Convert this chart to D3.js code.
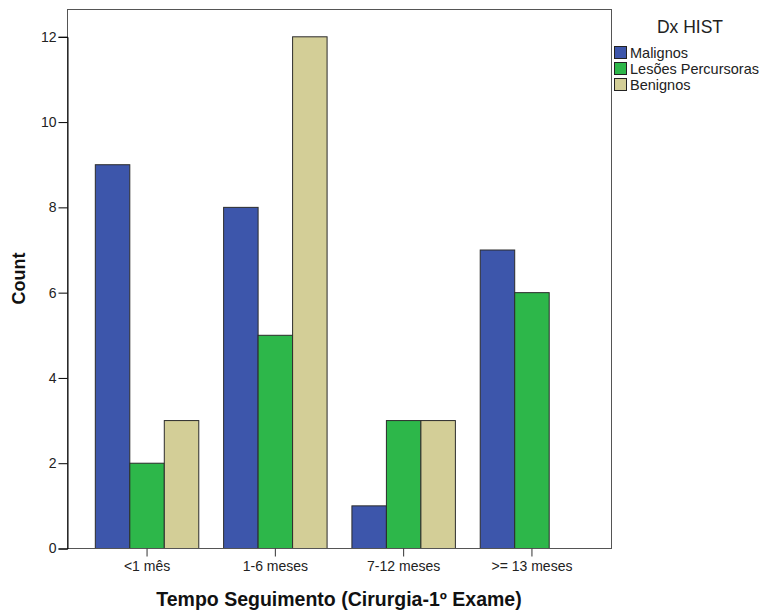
<!DOCTYPE html>
<html><head><meta charset="utf-8">
<script src="https://cdn.jsdelivr.net/npm/d3@7"></script>
<style>body{margin:0;background:#fff}svg{display:block}text{font-family:"Liberation Sans",Arial,sans-serif}</style>
</head><body><svg id="c" width="764" height="610"></svg>
<script>
const categories = ["<1 mês", "1-6 meses", "7-12 meses", ">= 13 meses"];
const seriesNames = ["Malignos", "Lesões Percursoras", "Benignos"];
const malignos = [9, 8, 1, 7];
const lesoes = [2, 5, 3, 6];
const benignos = [3, 12, 3, 0];
const yTicks = [0, 2, 4, 6, 8, 10, 12];
const colors = ["#3d56ab", "#2db74a", "#d3ce97"];

const seriesValues = [malignos, lesoes, benignos];
const svg = d3.select("#c");
const L = 67, R = 611, T = 9, B = 548;

const x = d3.scaleBand().domain(categories).range([L, R]).paddingOuter(0.12).paddingInner(0);
const xs = d3.scaleBand().domain(seriesNames).range([0, x.bandwidth()]).paddingOuter(0.36).paddingInner(0);
const y = d3.scaleLinear().domain([0, 12]).range([B, 36.3]);

// bars
categories.forEach((c, i) => {
  seriesNames.forEach((s, j) => {
    const v = seriesValues[j][i];
    if (!v) return;
    svg.append("rect")
      .attr("x", x(c) + xs(s) + 0.5)
      .attr("y", y(v) + 0.5)
      .attr("width", xs.bandwidth())
      .attr("height", y(0) - y(v))
      .attr("fill", colors[j])
      .attr("stroke", "#2b2b2b")
      .attr("stroke-width", 1);
  });
});

// frame
svg.append("rect").attr("x", L + 0.5).attr("y", T + 0.5).attr("width", R - L).attr("height", B - T)
  .attr("fill", "none").attr("stroke", "#555").attr("stroke-width", 1);

// y axis
const ya = svg.append("g").attr("transform", `translate(${L + 0.5},0.5)`)
  .call(d3.axisLeft(y).tickValues(yTicks).tickSize(9).tickPadding(2));
ya.select(".domain").attr("stroke", "#000");
ya.selectAll(".tick line").attr("stroke", "#000");
ya.selectAll("text").attr("font-size", 14).attr("fill", "#222").attr("font-family", "Liberation Sans, Arial, sans-serif");

// x axis
const xa = svg.append("g").attr("transform", `translate(0.5,${B + 0.5})`)
  .call(d3.axisBottom(x).tickSize(8).tickPadding(5));
xa.select(".domain").remove();
xa.selectAll(".tick line").attr("stroke", "#333");
xa.selectAll("text").attr("font-size", 14).attr("fill", "#222").attr("font-family", "Liberation Sans, Arial, sans-serif");

// axis titles
svg.append("text").attr("x", (L + R) / 2 + 0).attr("y", 606).attr("text-anchor", "middle")
  .attr("font-size", 19.5).attr("font-weight", "bold").attr("fill", "#111")
  .text("Tempo Seguimento (Cirurgia-1º Exame)");
svg.append("text").attr("transform", `translate(25,${(T + B) / 2}) rotate(-90)`).attr("text-anchor", "middle")
  .attr("font-size", 18).attr("font-weight", "bold").attr("fill", "#111").text("Count");

// legend
svg.append("text").attr("x", 690).attr("y", 33).attr("text-anchor", "middle")
  .attr("font-size", 17.5).attr("fill", "#222").text("Dx HIST");
seriesNames.forEach((s, j) => {
  const gy = 46 + j * 16;
  svg.append("rect").attr("x", 614.5).attr("y", gy + 0.5).attr("width", 12).attr("height", 12)
    .attr("fill", colors[j]).attr("stroke", "#222");
  svg.append("text").attr("x", 630).attr("y", gy + 12).attr("font-size", 14.5).attr("fill", "#222").text(s);
});
</script></body></html>
